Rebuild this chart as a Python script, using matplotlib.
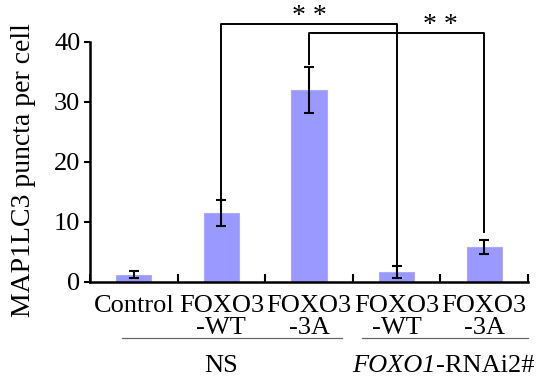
import matplotlib
matplotlib.use('Agg')
import matplotlib.pyplot as plt
import matplotlib.transforms as mtransforms
import numpy as np

plt.rcParams['font.family'] = 'Liberation Serif'

# ---- data ----
categories = ['Control', 'FOXO3\n-WT', 'FOXO3\n-3A', 'FOXO3\n-WT', 'FOXO3\n-3A']
means = [1.2, 11.5, 32.0, 1.7, 5.8]
errs = [0.6, 2.2, 3.9, 1.0, 1.2]
yticks = [0, 10, 20, 30, 40]

# significance brackets: (left idx, right idx, height, left leg end, right leg end)
brackets = [(1, 3, 43.0, 13.8, 2.9), (2, 4, 41.5, 36.4, 8.3)]
star_pos = [(2.0, 44.2), (3.5, 42.8)]

group_spans = [(-0.14, 2.38), (2.6, 4.5)]

fig = plt.figure(figsize=(5.48, 3.81), dpi=100)
ax = fig.add_axes([90/548, 1-282/381, 438/548, 240/381])

x = np.arange(len(categories))
ax.bar(x, means, width=0.4, color='#9999ff', edgecolor='#aaaaff', linewidth=0.8)
ax.errorbar(x, means, yerr=errs, fmt='none', ecolor='black', elinewidth=1.5,
            capsize=3.5, capthick=1.5)

ax.set_xlim(-0.5, 4.5)
ax.set_ylim(0, 40)
ax.set_yticks(yticks)
ax.tick_params(axis='y', labelsize=19, length=4, width=1.5, pad=3)
ax.set_xticks(x)
ax.set_xticklabels(categories, fontsize=19, linespacing=1.0, va='top')
ax.tick_params(axis='x', length=0, pad=9)
ax.set_xticks(np.arange(-0.5, 4.6, 1), minor=True)
ax.tick_params(axis='x', which='minor', direction='in', length=6, width=1.5)
for s in ['top', 'right']:
    ax.spines[s].set_visible(False)
for s in ['left', 'bottom']:
    ax.spines[s].set_linewidth(1.8)

for l, r, h, le, re in brackets:
    ax.plot([l, l, r, r], [le, h, h, re], color='black', lw=1.4, clip_on=False)
for sx, sy in star_pos:
    ax.text(sx, sy, '* *', ha='center', va='center', fontsize=20, clip_on=False)

trans = mtransforms.blended_transform_factory(ax.transData, ax.transAxes)
for a, b in group_spans:
    ax.plot([a, b], [-0.233, -0.233], color='#666666', lw=0.9, transform=trans, clip_on=False)
ax.text(1.0, -0.35, 'NS', ha='center', va='center', fontsize=19, transform=trans)
ax.text(3.45, -0.35, 'FOXO1', ha='right', va='center', fontsize=19,
        fontstyle='italic', transform=trans)
ax.text(3.45, -0.35, '-RNAi2#', ha='left', va='center', fontsize=19, transform=trans)

fig.text(24/548, 1-170/381, 'MAP1LC3 puncta per cell', rotation=90,
         ha='center', va='center', fontsize=20)

fig.savefig('out.png', dpi=100)
